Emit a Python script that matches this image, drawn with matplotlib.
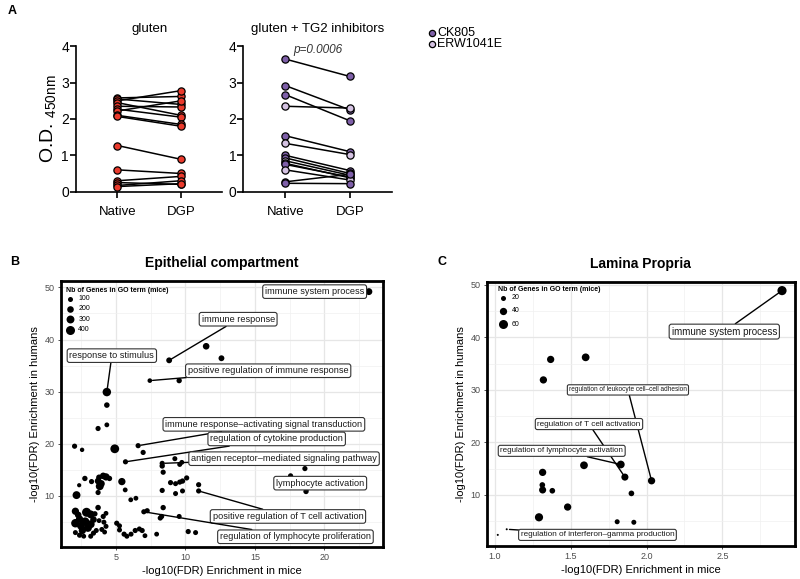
import matplotlib
matplotlib.use("Agg")
import matplotlib.pyplot as plt
from matplotlib.ticker import MultipleLocator

plt.rcParams['font.family'] = ['Liberation Sans', 'DejaVu Sans']
plt.rcParams['mathtext.default'] = 'regular'

# ---- panel A data (O.D. 450nm) ----
pair_labels = ['Native', 'DGP']
gluten_native = [2.58, 2.55, 2.50, 2.45, 2.35, 2.27, 2.22, 2.10, 2.07, 1.27, 0.60, 0.30, 0.25, 0.17, 0.14]
gluten_dgp = [2.62, 2.40, 2.78, 2.10, 2.33, 2.05, 2.50, 1.85, 1.80, 0.89, 0.50, 0.42, 0.20, 0.30, 0.22]
tg2_native = [3.65, 2.92, 2.67, 2.35, 1.54, 1.33, 1.00, 0.93, 0.85, 0.78, 0.75, 0.60, 0.27, 0.23]
tg2_dgp = [3.17, 2.25, 1.95, 2.30, 1.10, 1.02, 0.58, 0.50, 0.45, 0.38, 0.40, 0.32, 0.48, 0.22]
tg2_inhib = ['CK805', 'CK805', 'CK805', 'ERW1041E', 'CK805', 'ERW1041E', 'CK805', 'CK805',
             'ERW1041E', 'ERW1041E', 'CK805', 'ERW1041E', 'CK805', 'CK805']
inhib_names = ['CK805', 'ERW1041E']
inhib_colors = {'CK805': '#7e5fa8', 'ERW1041E': '#d4c2e2'}
red = '#ea3a2c'

# ---- panel B data: epithelial compartment ----
epi_x = [23.2, 8.84, 11.5, 12.6, 7.45, 9.56, 4.36, 4.36, 3.73, 4.36, 2.04, 2.58, 4.93, 6.61, 6.97,
         5.70, 8.34, 8.34, 9.25, 9.60, 9.75, 8.41, 17.57, 18.6, 18.68, 8.94, 9.3, 9.6, 9.8, 10.1,
         8.34, 9.3, 9.8, 10.96, 10.96, 8.41, 8.2, 8.3, 9.56, 7.94, 10.21, 10.74, 7.02, 7.26, 6.08,
         6.45, 5.68, 5.44, 2.18, 2.37, 2.78, 3.26, 3.73, 3.85, 3.95, 3.80, 4.10, 4.30, 4.55, 3.73,
         2.1, 2.9, 3.2, 2.1, 2.5, 2.8, 3.2, 2.4, 2.6, 3.0, 3.4, 3.73, 3.5, 4.1, 4.15,
         4.3, 4.2, 4.0, 3.8, 4.3, 5.07, 5.27, 5.27, 5.6, 5.8, 6.1, 6.4, 6.7, 6.9, 7.1,
         2.1, 2.4, 2.7, 3.2, 3.4, 3.6, 2.3]
epi_y = [49.2, 36.0, 38.7, 36.4, 32.1, 32.1, 29.9, 27.4, 22.9, 23.6, 19.5, 18.8, 19.0, 19.6, 18.3,
         16.5, 16.2, 15.7, 17.1, 16.0, 16.4, 14.5, 13.8, 15.2, 10.8, 12.5, 12.3, 12.6, 12.8, 13.4,
         11.0, 10.4, 10.9, 12.1, 10.9, 7.7, 5.7, 6.0, 6.0, 2.6, 3.1, 2.9, 6.9, 7.1, 9.2,
         9.5, 11.1, 12.7, 10.1, 12.0, 13.3, 12.7, 12.8, 11.8, 12.3, 13.5, 13.8, 13.6, 13.3, 10.6,
         7.0, 6.8, 6.4, 4.7, 4.2, 5.0, 4.5, 5.5, 3.3, 3.8, 5.4, 7.7, 6.5, 6.0, 4.9,
         4.1, 3.0, 3.5, 5.2, 6.6, 4.7, 4.2, 3.4, 2.6, 2.2, 2.6, 3.3, 3.6, 3.3, 2.3,
         2.9, 2.4, 2.2, 2.2, 2.8, 3.3, 6.3]
epi_n = [220, 150, 200, 150, 80, 120, 350, 130, 110, 90, 110, 70, 380, 110, 110,
         110, 110, 120, 100, 100, 90, 110, 110, 110, 120, 110, 100, 110, 120, 110,
         110, 100, 100, 110, 110, 120, 110, 110, 100, 90, 110, 100, 110, 110, 90,
         90, 90, 250, 300, 60, 120, 110, 200, 300, 250, 150, 200, 250, 120, 110,
         250, 400, 300, 350, 300, 350, 300, 250, 250, 300, 200, 130, 120, 110, 100,
         100, 90, 100, 90, 90, 110, 100, 100, 110, 100, 100, 110, 100, 110, 90,
         100, 110, 90, 100, 110, 100, 200]
epi_terms = ['immune system process', 'immune response', 'response to stimulus',
             'positive regulation of immune response',
             'immune response\u2013activating signal transduction',
             'regulation of cytokine production',
             'antigen receptor\u2013mediated signaling pathway', 'lymphocyte activation',
             'positive regulation of T cell activation',
             'regulation of lymphocyte proliferation']
epi_term_idx = [0, 1, 6, 4, 13, 15, 16, 24, 34, 42]
epi_legend_n = [100, 200, 300, 400]

# ---- panel C data: lamina propria ----
lp_x = [2.894, 1.367, 1.598, 1.319, 1.314, 1.312, 1.314, 1.378, 1.479, 1.29, 1.587, 1.83, 1.857,
        2.033, 1.90, 1.806, 1.916, 1.018, 1.077]
lp_y = [48.9, 35.8, 36.2, 31.9, 14.3, 11.9, 10.95, 10.8, 7.7, 5.75, 15.65, 15.8, 13.4,
        12.7, 10.3, 4.9, 4.8, 2.4, 3.47]
lp_n = [62, 40, 45, 40, 40, 25, 38, 25, 40, 50, 45, 45, 38, 40, 25, 20, 20, 5, 5]
lp_terms = ['immune system process', 'regulation of leukocyte cell\u2013cell adhesion',
            'regulation of T cell activation', 'regulation of lymphocyte activation',
            'regulation of interferon\u2013gamma production']
lp_term_idx = [0, 13, 12, 11, 18]
lp_legend_n = [20, 40, 60]

# label placement (data coords) and font sizes
epi_label_pos = [(19.3, 49.2), (13.8, 43.9), (4.72, 36.9), (15.96, 34.0), (15.65, 23.7),
                 (16.57, 20.9), (17.1, 17.1), (19.7, 12.4), (17.38, 6.0), (17.92, 2.1)]
lp_label_pos = [(2.513, 41.1), (1.877, 30.0), (1.62, 23.5), (1.44, 18.4), (1.676, 2.4)]
lp_label_fs = [7.0, 4.7, 5.9, 5.8, 5.9]


def epi_size(n):
    return 3.3 + 0.097 * n


def lp_size(n):
    return max(2.0, -1.5 + 0.725 * n)


fig = plt.figure(figsize=(8, 5.79), dpi=100)

# ================= panel A =================
axA1 = fig.add_axes([0.095, 0.669, 0.183, 0.251])
axA2 = fig.add_axes([0.304, 0.669, 0.186, 0.251])

for na, dg in zip(gluten_native, gluten_dgp):
    axA1.plot([0, 1], [na, dg], color='black', lw=1.1, zorder=2)
    axA1.plot([0, 1], [na, dg], ls='none', marker='o', ms=5.2, mfc=red, mec='black', mew=0.9,
              zorder=3, clip_on=False)

for na, dg, inh in zip(tg2_native, tg2_dgp, tg2_inhib):
    axA2.plot([0, 1], [na, dg], color='black', lw=1.1, zorder=2)
    axA2.plot([0, 1], [na, dg], ls='none', marker='o', ms=5.2, mfc=inhib_colors[inh],
              mec='black', mew=0.9, zorder=3, clip_on=False)

for ax, title in [(axA1, 'gluten'), (axA2, 'gluten + TG2 inhibitors')]:
    ax.set_xlim(-0.65, 1.65)
    ax.set_ylim(0, 4)
    ax.set_yticks([0, 1, 2, 3, 4])
    ax.set_xticks([0, 1])
    ax.set_xticklabels(pair_labels, fontsize=9.5)
    ax.tick_params(axis='y', labelsize=10, width=1.2, length=4, pad=1)
    ax.tick_params(axis='x', width=1.2, length=4, pad=6)
    for s in ['top', 'right']:
        ax.spines[s].set_visible(False)
    for s in ['left', 'bottom']:
        ax.spines[s].set_linewidth(1.2)
    ax.set_title(title, fontsize=9.5, pad=10)

axA1.set_ylabel(r'O.D. $_{\mathregular{450nm}}$', fontsize=14, labelpad=2)
axA2.text(0.5, 3.9, 'p=0.0006', style='italic', ha='center', va='center', fontsize=8.5, color='#333333')

# legend for inhibitors
for i, name in enumerate(inhib_names):
    ly = 1 - (33 + 11 * i) / 579
    fig.add_artist(plt.Line2D([432 / 800], [ly], transform=fig.transFigure,
                              marker='o', ms=4.5, mfc=inhib_colors[name], mec='black', mew=0.9))
    fig.text(437 / 800, ly, name, fontsize=9, va='center', ha='left')

fig.text(8 / 800, 1 - 11 / 579, 'A', fontsize=9, fontweight='bold', va='center')


# ================= panels B and C =================
def style_gg(ax, xmaj, xmin, xlim, ylim):
    ax.set_xlim(*xlim)
    ax.set_ylim(*ylim)
    ax.xaxis.set_major_locator(MultipleLocator(xmaj))
    ax.xaxis.set_minor_locator(MultipleLocator(xmin))
    ax.yaxis.set_major_locator(MultipleLocator(10))
    ax.yaxis.set_minor_locator(MultipleLocator(5))
    ax.grid(which='major', color='#e6e6e6', lw=0.9)
    ax.grid(which='minor', color='#f0f0f0', lw=0.5)
    ax.set_axisbelow(True)
    ax.tick_params(which='major', labelsize=6.5, labelcolor='#4d4d4d', color='#333333',
                   length=2.5, width=0.6, pad=2)
    ax.tick_params(which='minor', length=0)
    for s in ax.spines.values():
        s.set_linewidth(2.0)
        s.set_color('black')
    ax.set_xlabel('-log10(FDR) Enrichment in mice', fontsize=8, labelpad=3)
    ax.set_ylabel('-log10(FDR) Enrichment in humans', fontsize=8, labelpad=3)


box = dict(boxstyle='round,pad=0.25,rounding_size=0.25', fc='white', ec='#333333', lw=0.8)
arrow = dict(arrowstyle='-', color='black', lw=1.0, shrinkA=0, shrinkB=2)

axB = fig.add_axes([0.076, 0.0558, 0.4025, 0.4594])
style_gg(axB, 5, 2.5, (1.05, 24.2), (0.19, 51.3))
axB.scatter(epi_x, epi_y, s=[epi_size(n) for n in epi_n], color='black', lw=0, zorder=3)
for term, idx, pos in zip(epi_terms, epi_term_idx, epi_label_pos):
    axB.annotate(term, xy=(epi_x[idx], epi_y[idx]), xytext=pos, ha='center', va='center',
                 fontsize=6.6, bbox=box, arrowprops=arrow, zorder=4, color='#1a1a1a')
axB.text(0.016, 0.965, 'Nb of Genes in GO term (mice)', transform=axB.transAxes, fontsize=5,
         fontweight='bold', va='center')
for n, yy in zip(epi_legend_n, [0.932, 0.895, 0.855, 0.815]):
    axB.scatter([0.028], [yy], s=epi_size(n), color='black', lw=0, transform=axB.transAxes, clip_on=False)
    axB.text(0.054, yy, str(n), transform=axB.transAxes, fontsize=5, va='center')
axB.set_title('Epithelial compartment', fontsize=10, fontweight='bold', pad=10)
fig.text(10 / 800, 1 - 262 / 579, 'B', fontsize=9, fontweight='bold', va='center')

axC = fig.add_axes([0.6084, 0.0575, 0.3854, 0.456])
style_gg(axC, 0.5, 0.25, (0.945, 2.98), (0.34, 50.6))
axC.scatter(lp_x, lp_y, s=[lp_size(n) for n in lp_n], color='black', lw=0, zorder=3)
for term, idx, pos, fs in zip(lp_terms, lp_term_idx, lp_label_pos, lp_label_fs):
    axC.annotate(term, xy=(lp_x[idx], lp_y[idx]), xytext=pos, ha='center', va='center',
                 fontsize=fs, bbox=box, arrowprops=arrow, zorder=4, color='#1a1a1a')
axC.text(0.037, 0.972, 'Nb of Genes in GO term (mice)', transform=axC.transAxes, fontsize=5,
         fontweight='bold', va='center')
for n, yy in zip(lp_legend_n, [0.940, 0.889, 0.839]):
    axC.scatter([0.054], [yy], s=lp_size(n), color='black', lw=0, transform=axC.transAxes, clip_on=False)
    axC.text(0.081, yy, str(n), transform=axC.transAxes, fontsize=5, va='center')
axC.set_title('Lamina Propria', fontsize=10, fontweight='bold', pad=10)
fig.text(438 / 800, 1 - 262 / 579, 'C', fontsize=9, fontweight='bold', va='center')

fig.savefig('out.png', dpi=100)
